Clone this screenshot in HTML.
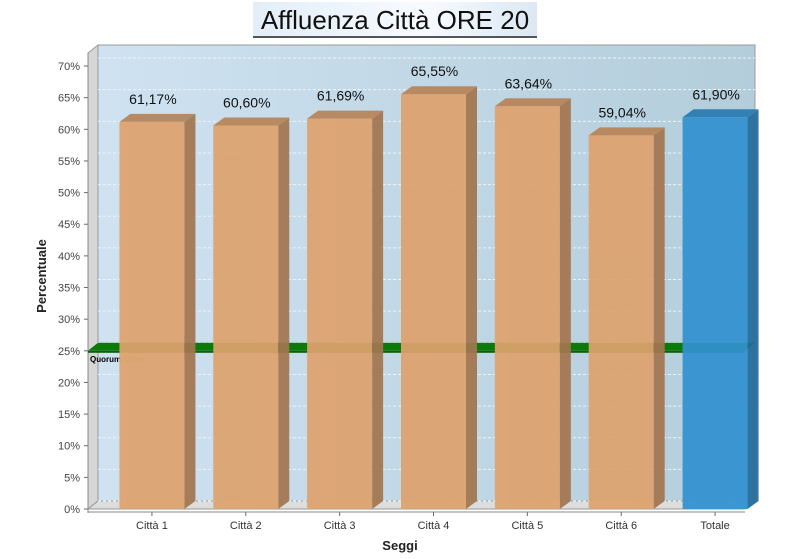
<!DOCTYPE html>
<html><head><meta charset="utf-8"><style>
body{margin:0;background:#fff;width:790px;height:559px;overflow:hidden;font-family:"Liberation Sans",sans-serif}
#title{position:absolute;left:253px;top:2px;width:284px;height:34px;border-bottom:2px solid #555;background:linear-gradient(90deg,#e3eef8,#f7fbff 60%,#dbe8f3);text-align:center;font-size:26px;line-height:36px;color:#111}
</style></head><body>
<div id="title">Affluenza Città ORE 20</div>
<svg id="chart" width="790" height="559" style="position:absolute;left:0;top:0">
<defs><linearGradient id="bg" x1="0" x2="1"><stop offset="0" stop-color="#cfe2f1"/><stop offset="1" stop-color="#b3cddb"/></linearGradient></defs>
</svg>
<script>
const categories=["Città 1","Città 2","Città 3","Città 4","Città 5","Città 6","Totale"];
const values=[61.17,60.60,61.69,65.55,63.64,59.04,61.90];
const valueLabels=["61,17%","60,60%","61,69%","65,55%","63,64%","59,04%","61,90%"];
const yTicks=[0,5,10,15,20,25,30,35,40,45,50,55,60,65,70];
const quorum=25;
const NS="http://www.w3.org/2000/svg",svg=document.getElementById('chart');
function mk(t,a,p){const e=document.createElementNS(NS,t);for(const k in a)e.setAttribute(k,a[k]);(p||svg).appendChild(e);return e;}
const x0=88,x1=745,dx=10,dy=-8,yB=509;
const y=v=>yB-v*6.328;
const bandW=(x1-x0)/categories.length;
const xc=i=>x0+bandW*(i+0.5)+17;
// back wall
let e=mk('rect',{x:x0+dx,y:45,width:x1-x0,height:yB+dy-45,fill:'url(#bg)',stroke:'#999'});

e=mk('polygon',{points:`${x0},${53} ${x0+dx},45 ${x0+dx},${yB+dy} ${x0},${yB}`,fill:'#d6d6d6',stroke:'#999'});

e=mk('polygon',{points:`${x0},${yB} ${x0+dx},${yB+dy} ${x1+dx},${yB+dy} ${x1},${yB}`,fill:'#ddd',stroke:'#999'});

yTicks.forEach(t=>{
 const g=mk('line',{x1:x0+dx,x2:x1+dx,y1:y(t)+dy,y2:y(t)+dy,stroke:'#eef4f8','stroke-dasharray':'3,2'});
 
 const tk=mk('line',{x1:x0-4,x2:x0,y1:y(t),y2:y(t),stroke:'#666'});
 
 const l=mk('text',{x:x0-8,y:y(t)+4,'text-anchor':'end','font-size':11,fill:'#444'});l.textContent=t+'%';
 
});
e=mk('line',{x1:x0,x2:x0,y1:53,y2:yB+4,stroke:'#888'});
// quorum slab
const qy=y(quorum);
e=mk('polygon',{points:`${x0},${qy} ${x0+dx},${qy+dy} ${x1+dx},${qy+dy} ${x1},${qy}`,fill:'#0b7a0b'});

e=mk('rect',{x:x0,y:qy,width:x1-x0,height:2,fill:'#086008'});

e=mk('text',{x:x0+2,y:qy+11,'font-size':8,fill:'#000','font-weight':'bold'});
e.innerHTML='Quorum <tspan fill="#a0622a" font-weight="normal">(25%)</tspan>';

// bars
values.forEach((v,i)=>{
 const tot=i===values.length-1;
 const f=tot?'#3191d0':'#dea26e',s=tot?'#246c9c':'#a37650',tp=tot?'#2a7bb3':'#b88458';
 const bx=xc(i)-32.5,w=65,top=y(v);
 const g=mk('g',{opacity:0.93});
 
 
 mk('rect',{x:bx,y:top,width:w,height:yB-top,fill:f},g);
 mk('polygon',{points:`${bx+w},${top} ${bx+w+11},${top+dy} ${bx+w+11},${yB+dy} ${bx+w},${yB}`,fill:s},g);
 mk('polygon',{points:`${bx},${top} ${bx+11},${top+dy} ${bx+w+11},${top+dy} ${bx+w},${top}`,fill:tp},g);
 const l=mk('text',{x:xc(i)+1,y:top-18,'text-anchor':'middle','font-size':14,fill:'#111'});l.textContent=valueLabels[i];
 
 const t=mk('line',{x1:xc(i),x2:xc(i),y1:yB+3,y2:yB+7,stroke:'#666'});
 
 const c=mk('text',{x:xc(i),y:yB+20,'text-anchor':'middle','font-size':11,fill:'#333'});c.textContent=categories[i];
 
});
e=mk('line',{x1:x0,x2:x1,y1:yB+3,y2:yB+3,stroke:'#888'});
e=mk('text',{x:400,y:550,'text-anchor':'middle','font-size':13,'font-weight':'bold',fill:'#222'});e.textContent='Seggi';

e=mk('text',{x:0,y:0,transform:'translate(46,276) rotate(-90)','text-anchor':'middle','font-size':13,'font-weight':'bold',fill:'#222'});e.textContent='Percentuale';

</script>
</body></html>
